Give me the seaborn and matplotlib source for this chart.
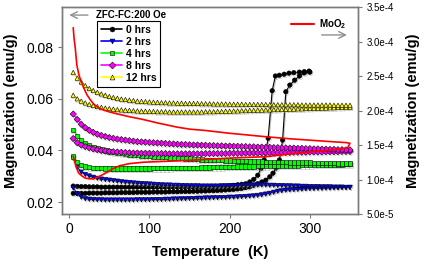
import matplotlib
matplotlib.use("Agg")
import matplotlib.pyplot as plt
import matplotlib.patheffects as pe
import pandas as pd
import seaborn as sns
from matplotlib.lines import Line2D
from matplotlib.ticker import FuncFormatter, MultipleLocator

# temperature grid used for the 2/4/8/12 hrs runs (K)
temps = [5, 10, 15, 20, 25, 30, 35, 40, 45, 50,
         55, 60, 65, 70, 75, 80, 85, 90, 95, 100,
         105, 110, 115, 120, 125, 130, 135, 140, 145, 150,
         155, 160, 165, 170, 175, 180, 185, 190, 195, 200,
         205, 210, 215, 220, 225, 230, 235, 240, 245, 250,
         255, 260, 265, 270, 275, 280, 285, 290, 295, 300,
         305, 310, 315, 320, 325, 330, 335, 340, 345, 350]

# 0 hrs (its own temperature points, denser through the jump)
t0_zfc = [5, 10, 15, 20, 25, 30, 35, 40, 45, 50,
          55, 60, 65, 70, 75, 80, 85, 90, 95, 100,
          105, 110, 115, 120, 125, 130, 135, 140, 145, 150,
          155, 160, 165, 170, 175, 180, 185, 190, 195, 200,
          205, 210, 215, 220, 225, 230, 235, 240, 245, 250,
          254, 258, 262, 266, 270, 275, 281, 287, 293, 300]
m0_zfc = [.0234, .0234, .0234, .0234, .0235, .0235, .0235, .0235, .0236, .0236,
          .0236, .0236, .0237, .0237, .0237, .0237, .0238, .0238, .0238, .0238,
          .0239, .0239, .0239, .0239, .0240, .0240, .0240, .0241, .0241, .0241,
          .0242, .0242, .0243, .0243, .0244, .0244, .0245, .0246, .0247, .0248,
          .0249, .0251, .0253, .0256, .0259, .0265, .0271, .0278, .0285, .0298,
          .0312, .0332, .0363, .0440, .0627, .0653, .0672, .0688, .0700, .0703]
t0_fc = [5, 10, 15, 20, 25, 30, 35, 40, 45, 50,
         55, 60, 65, 70, 75, 80, 85, 90, 95, 100,
         105, 110, 115, 120, 125, 130, 135, 140, 145, 150,
         155, 160, 165, 170, 175, 180, 185, 190, 195, 200,
         205, 210, 215, 220, 225, 230, 235, 239, 243, 248,
         253, 257, 262, 268, 274, 280, 287, 293, 299]
m0_fc = [.0262, .0261, .0260, .0260, .0259, .0259, .0259, .0258, .0258, .0258,
         .0258, .0258, .0258, .0258, .0258, .0258, .0258, .0258, .0258, .0258,
         .0258, .0258, .0258, .0258, .0258, .0258, .0258, .0258, .0258, .0258,
         .0258, .0258, .0258, .0258, .0259, .0259, .0260, .0261, .0262, .0263,
         .0265, .0267, .0269, .0271, .0278, .0288, .0304, .0330, .0363, .0447,
         .0631, .0688, .0691, .0695, .0699, .0701, .0703, .0705, .0707]

m2_zfc = [.0255, .0232, .0219, .0213, .0211, .0210, .0209, .0209, .0208, .0208,
          .0208, .0208, .0208, .0208, .0208, .0208, .0209, .0209, .0209, .0209,
          .0210, .0210, .0210, .0211, .0211, .0212, .0212, .0213, .0213, .0214,
          .0214, .0215, .0215, .0216, .0216, .0217, .0217, .0218, .0218, .0219,
          .0219, .0220, .0221, .0222, .0223, .0224, .0226, .0228, .0231, .0234,
          .0238, .0242, .0244, .0246, .0247, .0248, .0249, .0250, .0251, .0252,
          .0252, .0253, .0253, .0254, .0254, .0255, .0255, .0256, .0256, .0257]
m2_fc = [.0370, .0335, .0316, .0307, .0301, .0296, .0292, .0289, .0287, .0285,
         .0283, .0281, .0279, .0277, .0276, .0274, .0273, .0272, .0271, .0270,
         .0269, .0268, .0267, .0266, .0266, .0265, .0265, .0264, .0264, .0263,
         .0263, .0263, .0262, .0262, .0262, .0262, .0262, .0263, .0263, .0263,
         .0264, .0264, .0265, .0265, .0266, .0266, .0266, .0266, .0266, .0265,
         .0265, .0264, .0264, .0263, .0263, .0262, .0262, .0261, .0261, .0260,
         .0260, .0260, .0259, .0259, .0259, .0258, .0258, .0258, .0257, .0257]

m4_zfc = [.0376, .0355, .0344, .0338, .0335, .0333, .0332, .0331, .0330, .0330,
          .0330, .0330, .0330, .0330, .0330, .0330, .0330, .0330, .0330, .0330,
          .0331, .0331, .0331, .0331, .0331, .0332, .0332, .0332, .0332, .0333,
          .0333, .0333, .0334, .0334, .0334, .0335, .0335, .0335, .0336, .0336,
          .0336, .0337, .0337, .0337, .0338, .0338, .0339, .0339, .0339, .0340,
          .0340, .0340, .0341, .0341, .0342, .0342, .0342, .0343, .0343, .0343,
          .0344, .0344, .0344, .0345, .0345, .0345, .0346, .0346, .0347, .0347]
m4_fc = [.0479, .0456, .0441, .0429, .0420, .0413, .0408, .0403, .0399, .0396,
         .0393, .0391, .0389, .0387, .0385, .0383, .0382, .0380, .0379, .0378,
         .0377, .0376, .0375, .0374, .0373, .0372, .0371, .0370, .0369, .0368,
         .0367, .0366, .0365, .0364, .0363, .0363, .0362, .0362, .0361, .0361,
         .0360, .0360, .0359, .0359, .0358, .0358, .0357, .0357, .0356, .0356,
         .0356, .0355, .0355, .0355, .0354, .0354, .0354, .0353, .0353, .0353,
         .0352, .0352, .0352, .0351, .0351, .0351, .0350, .0350, .0350, .0350]

m8_zfc = [.0446, .0430, .0421, .0415, .0410, .0406, .0403, .0400, .0398, .0396,
          .0395, .0394, .0393, .0392, .0391, .0390, .0390, .0389, .0389, .0389,
          .0388, .0388, .0388, .0388, .0387, .0387, .0387, .0387, .0387, .0387,
          .0387, .0387, .0387, .0388, .0388, .0388, .0388, .0388, .0388, .0389,
          .0389, .0389, .0389, .0390, .0390, .0390, .0390, .0391, .0391, .0391,
          .0391, .0392, .0392, .0392, .0392, .0393, .0393, .0393, .0393, .0394,
          .0394, .0394, .0394, .0395, .0395, .0395, .0395, .0396, .0396, .0396]
m8_fc = [.0541, .0520, .0501, .0488, .0478, .0470, .0463, .0458, .0454, .0450,
         .0447, .0444, .0442, .0440, .0438, .0436, .0434, .0433, .0432, .0431,
         .0430, .0429, .0428, .0427, .0426, .0425, .0424, .0423, .0423, .0422,
         .0421, .0421, .0420, .0420, .0419, .0419, .0418, .0418, .0417, .0417,
         .0416, .0416, .0415, .0415, .0414, .0414, .0413, .0413, .0412, .0412,
         .0411, .0411, .0410, .0410, .0409, .0409, .0408, .0408, .0407, .0407,
         .0406, .0406, .0405, .0405, .0404, .0404, .0403, .0403, .0402, .0402]

m12_zfc = [.0614, .0600, .0591, .0584, .0578, .0574, .0570, .0567, .0564, .0562,
           .0560, .0558, .0557, .0556, .0555, .0554, .0553, .0552, .0552, .0551,
           .0551, .0550, .0550, .0550, .0549, .0549, .0549, .0549, .0549, .0549,
           .0549, .0549, .0549, .0550, .0550, .0550, .0551, .0551, .0552, .0552,
           .0553, .0553, .0554, .0554, .0555, .0555, .0556, .0556, .0557, .0557,
           .0558, .0558, .0559, .0559, .0560, .0560, .0561, .0561, .0562, .0562,
           .0563, .0563, .0564, .0564, .0565, .0565, .0566, .0566, .0567, .0567]
m12_fc = [.0702, .0680, .0665, .0651, .0640, .0632, .0625, .0619, .0614, .0609,
          .0605, .0602, .0599, .0597, .0595, .0593, .0591, .0590, .0589, .0588,
          .0587, .0586, .0585, .0585, .0584, .0584, .0583, .0583, .0582, .0582,
          .0582, .0582, .0581, .0581, .0581, .0580, .0580, .0580, .0580, .0579,
          .0579, .0579, .0579, .0578, .0578, .0578, .0578, .0578, .0578, .0577,
          .0577, .0577, .0577, .0577, .0577, .0577, .0577, .0576, .0576, .0576,
          .0576, .0576, .0576, .0576, .0576, .0575, .0575, .0575, .0575, .0575]

# MoO2 reference, right axis: warming branch then back down
moo2_T = [5, 6, 7.5, 9.5, 12, 14, 18, 22, 26, 30,
          35, 40, 50, 60, 75, 92, 110, 134, 150, 170,
          200, 245, 275, 300, 325, 345, 350,
          347, 337, 320, 300, 275, 245, 200, 170, 134,
          92, 75, 63, 55, 51, 45, 40, 35, 30, 25,
          20, 16, 13, 11.5, 9, 7, 5]
moo2_M = [3.20e-4, 3.05e-4, 2.91e-4, 2.66e-4, 2.52e-4, 2.45e-4, 2.33e-4, 2.23e-4, 2.16e-4, 2.10e-4,
          2.05e-4, 2.02e-4, 1.98e-4, 1.95e-4, 1.91e-4, 1.87e-4, 1.82e-4, 1.76e-4, 1.73e-4, 1.71e-4,
          1.67e-4, 1.62e-4, 1.59e-4, 1.57e-4, 1.55e-4, 1.535e-4, 1.525e-4,
          1.46e-4, 1.44e-4, 1.42e-4, 1.40e-4, 1.37e-4, 1.33e-4, 1.31e-4, 1.29e-4, 1.27e-4,
          1.25e-4, 1.23e-4, 1.20e-4, 1.16e-4, 1.13e-4, 1.09e-4, 1.06e-4, 1.03e-4, 1.01e-4, 1.01e-4,
          1.02e-4, 1.05e-4, 1.08e-4, 1.10e-4, 1.17e-4, 1.25e-4, 1.34e-4]

labels = ["0 hrs", "2 hrs", "4 hrs", "8 hrs", "12 hrs"]
colors = {"0 hrs": "#000000", "2 hrs": "#0000ff", "4 hrs": "#00ff00",
          "8 hrs": "#ff00ff", "12 hrs": "#ffff00"}
markers = {"0 hrs": "o", "2 hrs": "v", "4 hrs": "s", "8 hrs": "D", "12 hrs": "^"}


def loop_frame(label, t_zfc, m_zfc, t_fc, m_fc):
    # zfc going up, fc coming back so each sample is one line
    t = list(t_zfc) + list(t_fc)[::-1]
    m = list(m_zfc) + list(m_fc)[::-1]
    return pd.DataFrame({"T": t, "M": m, "sample": label})


df = pd.concat([
    loop_frame("0 hrs", t0_zfc, m0_zfc, t0_fc, m0_fc),
    loop_frame("2 hrs", temps, m2_zfc, temps, m2_fc),
    loop_frame("4 hrs", temps, m4_zfc, temps, m4_fc),
    loop_frame("8 hrs", temps, m8_zfc, temps, m8_fc),
    loop_frame("12 hrs", temps, m12_zfc, temps, m12_fc),
], ignore_index=True)

sns.set_theme(style="ticks", rc={"text.color": "black", "axes.labelcolor": "black",
                                 "xtick.color": "black", "ytick.color": "black"})
plt.rcParams["font.family"] = ["Liberation Sans", "DejaVu Sans"]
plt.rcParams["mathtext.fontset"] = "custom"
plt.rcParams["mathtext.rm"] = "Liberation Sans"
plt.rcParams["mathtext.bf"] = "Liberation Sans:bold"

fig = plt.figure(figsize=(4.25, 2.65), dpi=100)
ax = fig.add_axes([62 / 425, 1 - 214 / 265, 296 / 425, 207 / 265])

shadow = [pe.SimpleLineShadow(offset=(0.7, -0.9), shadow_color="#9a9a9a", alpha=0.6), pe.Normal()]
sns.lineplot(data=df, x="T", y="M", hue="sample", style="sample",
             hue_order=labels, style_order=labels, palette=colors,
             markers=markers, dashes=False, sort=False, estimator=None,
             legend=False, ax=ax, lw=0.8, markersize=3.2,
             markeredgecolor="black", markeredgewidth=0.4, path_effects=shadow)

ax2 = ax.twinx()
sns.lineplot(x=moo2_T, y=moo2_M, sort=False, estimator=None,
             color="red", lw=1.2, ax=ax2)

ax.set_xlim(-9, 360)
ax.set_ylim(0.0154, 0.0955)
ax2.set_ylim(5e-5, 3.5e-4)
ax.set_xticks([0, 100, 200, 300])
ax.set_yticks([0.02, 0.04, 0.06, 0.08])
ax2.yaxis.set_major_locator(MultipleLocator(5e-5))
ax2.yaxis.set_major_formatter(FuncFormatter(lambda v, p: f"{v:.1e}".replace("e-0", "e-")))

ax.set_xlabel("Temperature  (K)", fontsize=10.5, fontweight="bold", labelpad=6)
ax.set_ylabel("Magnetization (emu/g)", fontsize=10.5, fontweight="bold", labelpad=6)
ax2.set_ylabel("Magnetization (emu/g)", fontsize=10.5, fontweight="bold", labelpad=9)

for a in (ax, ax2):
    for s in a.spines.values():
        s.set_color("#7a7a7a")
        s.set_linewidth(1.0)
ax.tick_params(axis="both", labelsize=10, length=3, width=0.8, color="#7a7a7a",
               labelcolor="black", pad=3)
ax2.tick_params(axis="y", labelsize=7, length=3, width=0.8, color="#7a7a7a",
                labelcolor="black", pad=3)

handles = [Line2D([0], [0], color=colors[k], marker=markers[k], lw=1.2,
                  markersize=3.5, markeredgecolor="black", markeredgewidth=0.4)
           for k in labels]
leg = ax2.legend(handles, labels, loc="upper left", bbox_to_anchor=(0.118, 0.932),
                 borderaxespad=0, frameon=True, fancybox=False, framealpha=1,
                 edgecolor="black", prop={"size": 7.5, "weight": "bold"},
                 handlelength=2.1, handletextpad=0.3, labelspacing=0.2, borderpad=0.35)
leg.get_frame().set_linewidth(0.8)
ax2.add_artist(leg)

red_handle = [Line2D([0], [0], color="red", lw=1.5)]
ax2.legend(red_handle, [r"MoO$_\mathbf{2}$"], loc="center left",
           bbox_to_anchor=(0.774, 0.918), borderaxespad=0, borderpad=0,
           frameon=False, prop={"size": 7, "weight": "bold"},
           handlelength=2.4, handletextpad=0.5)

ax.text(0.115, 0.961, "ZFC-FC:200 Oe", transform=ax.transAxes,
        fontsize=7, fontweight="bold", va="center", ha="left")
ax.annotate("", xy=(0.015, 0.961), xytext=(0.097, 0.961), xycoords="axes fraction",
            arrowprops=dict(arrowstyle="->", color="#909090", lw=1.0))
ax.annotate("", xy=(0.972, 0.865), xytext=(0.868, 0.865), xycoords="axes fraction",
            arrowprops=dict(arrowstyle="->", color="#909090", lw=1.0))

fig.savefig("out.png", dpi=100)
